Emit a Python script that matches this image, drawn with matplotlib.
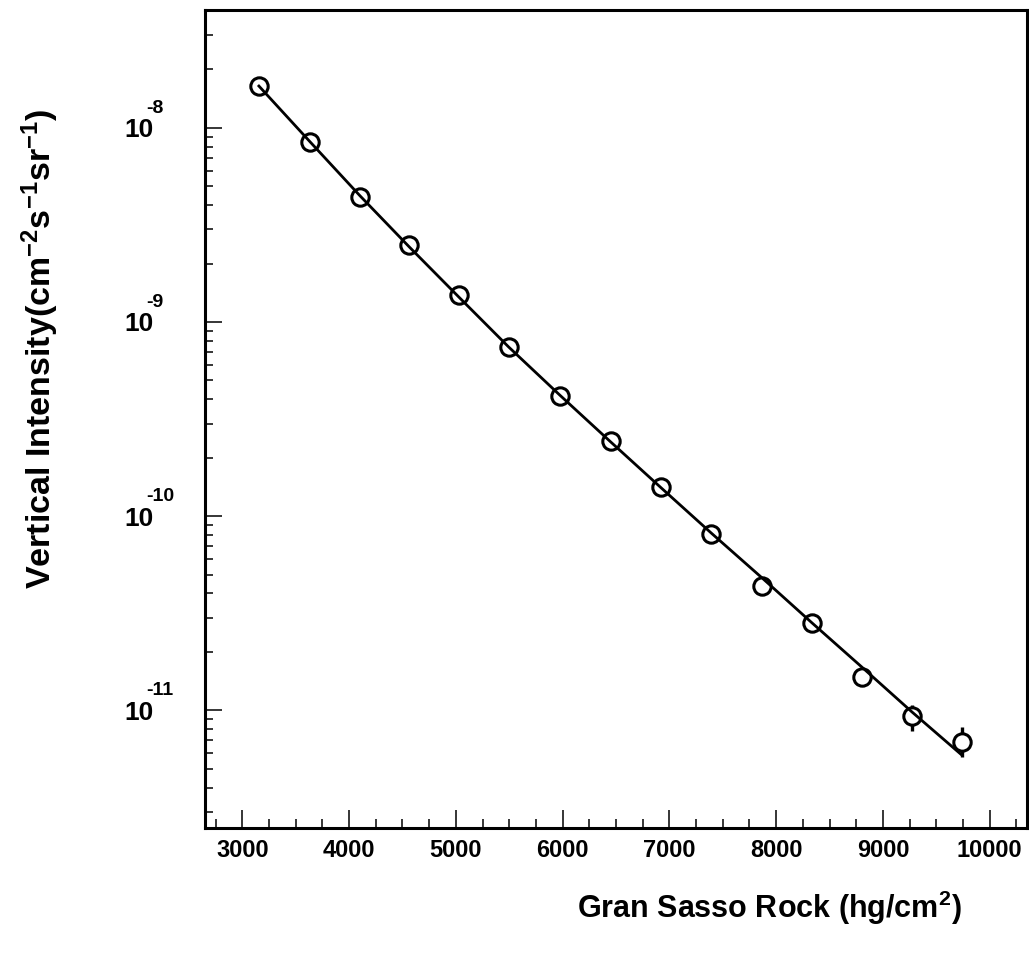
import matplotlib
matplotlib.use("Agg")
import matplotlib.pyplot as plt
from matplotlib.ticker import MultipleLocator, LogLocator, NullFormatter, FixedLocator, FuncFormatter
import numpy as np

plt.rcParams["font.family"] = ["Liberation Sans", "DejaVu Sans"]
plt.rcParams["mathtext.fontset"] = "custom"
plt.rcParams["mathtext.rm"] = "Liberation Sans:bold"
plt.rcParams["mathtext.bf"] = "Liberation Sans:bold"
plt.rcParams["mathtext.it"] = "Liberation Sans:bold"
plt.rcParams["mathtext.default"] = "bf"

# Depth in hg/cm^2 of standard Gran Sasso rock
depth = [3155, 3632, 4100, 4565, 5033, 5496, 5978, 6452, 6920,
         7393, 7870, 8335, 8803, 9271, 9739]
# Measured vertical muon intensity (cm^-2 s^-1 sr^-1)
intensity = [1.64e-8, 8.47e-9, 4.41e-9, 2.48e-9, 1.376e-9, 7.45e-10,
             4.15e-10, 2.445e-10, 1.417e-10, 8.06e-11, 4.37e-11,
             2.805e-11, 1.489e-11, 9.38e-12, 6.89e-12]
err_low = [0, 0, 0, 0, 0, 0, 0, 0, 0, 0, 0, 0, 0, 1.53e-12, 1.12e-12]
err_high = [0, 0, 0, 0, 0, 0, 0, 0, 0, 0, 0, 0, 0, 1.26e-12, 1.34e-12]
# Fitted depth-intensity relation evaluated at the same depths
fit_intensity = [1.640e-8, 8.49e-9, 4.475e-9, 2.43e-9, 1.335e-9, 7.42e-10,
                 4.18e-10, 2.407e-10, 1.404e-10, 8.18e-11, 4.80e-11,
                 2.825e-11, 1.671e-11, 9.83e-12, 5.89e-12]

x_major = [3000, 4000, 5000, 6000, 7000, 8000, 9000, 10000]
decades = [-8, -9, -10, -11]

fig = plt.figure(figsize=(10.29, 9.61), dpi=100)
ax = fig.add_axes([0.19922, 0.13808, 0.79883, 0.85151])

ax.errorbar(depth, intensity, yerr=[err_low, err_high], fmt="none",
            ecolor="black", elinewidth=2.4, capsize=0, zorder=2)
ax.plot(depth, intensity, linestyle="none", marker="o", markersize=12.5,
        markerfacecolor="white", markeredgecolor="black",
        markeredgewidth=2.2, zorder=3)
ax.plot(depth, fit_intensity, color="black", linewidth=2.0, zorder=4)

ax.set_yscale("log")
ax.set_xlim(2650, 10350)
ax.set_ylim(2.47e-12, 4.04e-8)

for side in ("left", "bottom", "right", "top"):
    ax.spines[side].set_linewidth(2.2)

ax.xaxis.set_major_locator(FixedLocator(x_major))
ax.xaxis.set_minor_locator(MultipleLocator(250))
ax.yaxis.set_major_locator(FixedLocator([10.0 ** d for d in decades]))
ax.yaxis.set_minor_locator(LogLocator(base=10, subs=np.arange(2, 10), numticks=20))
ax.yaxis.set_minor_formatter(NullFormatter())
ax.yaxis.set_major_formatter(FuncFormatter(lambda v, p: "10"))

ax.tick_params(axis="both", which="both", direction="in", top=False, right=False)
ax.tick_params(axis="x", which="major", length=12.7, width=1.1, pad=8,
               labelsize=17)
ax.tick_params(axis="x", which="minor", length=6.5, width=1.1)
ax.tick_params(axis="y", which="major", length=12.3, width=1.1, pad=37,
               labelsize=19)
ax.tick_params(axis="y", which="minor", length=6.0, width=1.1)
for lab in ax.get_xticklabels() + ax.get_yticklabels():
    lab.set_fontweight("bold")

# decade exponents set above the "10" of each y tick label
for d in decades:
    ax.annotate(f"-{-d}", xy=(0, 10.0 ** d), xycoords=("axes fraction", "data"),
                xytext=(-42, 8), textcoords="offset points",
                ha="left", va="bottom", fontsize=14, fontweight="bold")

ax.set_xlabel(r"Gran Sasso Rock (hg/cm$^{2}$)", fontsize=22, fontweight="bold")
ax.xaxis.set_label_coords(0.686, -0.1096)
ax.xaxis.label.set_va("baseline")
ax.xaxis.label.set_ha("center")

ax.set_ylabel(r"Vertical Intensity(cm$^{-2}$s$^{-1}$sr$^{-1}$)", fontsize=24.5,
              fontweight="bold")
ax.yaxis.set_label_coords(-0.2007, 0.586)
ax.yaxis.label.set_va("center")
ax.yaxis.label.set_ha("center")

fig.savefig("out.png", dpi=100)
